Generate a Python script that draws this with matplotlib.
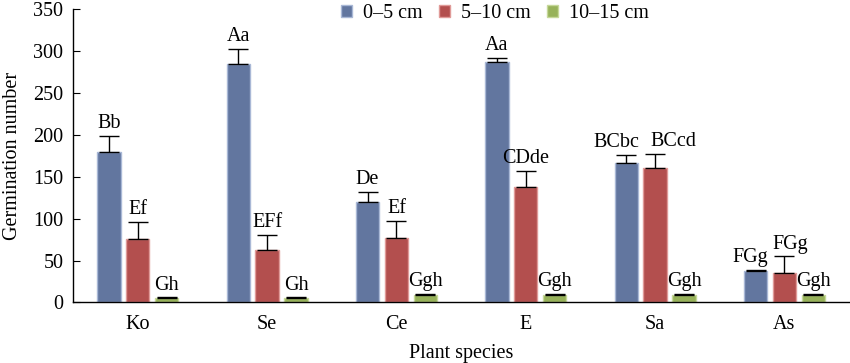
import matplotlib
matplotlib.use("Agg")
import matplotlib.pyplot as plt
import numpy as np

species = ["Ko", "Se", "Ce", "E", "Sa", "As"]
series = ["0–5 cm", "5–10 cm", "10–15 cm"]
vals_0_5 = [180, 285, 120, 287, 167, 37]
vals_5_10 = [76, 63, 77, 138, 160, 35]
vals_10_15 = [5, 5, 9, 9, 9, 9]
err_0_5 = [19, 18, 12, 5, 9, 2]
err_5_10 = [20, 18, 20, 19, 17, 20]
err_10_15 = [1, 1, 1, 1, 1, 1]
lab_0_5 = ["Bb", "Aa", "De", "Aa", "BCbc", "FGg"]
lab_5_10 = ["Ef", "EFf", "Ef", "CDde", "BCcd", "FGg"]
lab_10_15 = ["Gh", "Gh", "Ggh", "Ggh", "Ggh", "Ggh"]
# horizontal nudges (points) for crowded labels
shift_0_5 = [0, 0, 0, 0, -7, -4]
shift_5_10 = [0, 0, 0, 0, 13, 4]
shift_10_15 = [0, 0, 0, 0, 0, 0]

colors = ["#62769F", "#B34F4E", "#97B25A"]
edges = ["#A9B8D6", "#E09A98", "#C6D89A"]

plt.rcParams['font.family'] = ['Liberation Serif', 'DejaVu Serif']
FS = 14.5

fig = plt.figure(figsize=(8.5, 3.63), dpi=100)
ax = fig.add_axes([0.086, 0.167, 0.913, 0.807])

x = np.arange(len(species))
w = 0.18
off = 0.223
data = [vals_0_5, vals_5_10, vals_10_15]
errs = [err_0_5, err_5_10, err_10_15]
labs = [lab_0_5, lab_5_10, lab_10_15]
shifts = [shift_0_5, shift_5_10, shift_10_15]
for i in range(3):
    pos = x + (i - 1) * off
    ax.bar(pos, data[i], width=w, color=colors[i], edgecolor=edges[i],
           linewidth=1.0, label=series[i], zorder=2)
    ax.errorbar(pos, data[i], yerr=[np.zeros(len(species)), errs[i]],
                fmt='none', ecolor='black', elinewidth=1.0, capsize=7.5,
                capthick=1.0, zorder=3)
    for p, v, e, t, s in zip(pos, data[i], errs[i], labs[i], shifts[i]):
        ax.annotate(t, (p, v + e), xytext=(s, 2), textcoords='offset points',
                    ha='center', va='bottom', fontsize=FS)

ax.set_xlim(-0.5, 5.5)
ax.set_ylim(0, 350)
ax.set_yticks(np.arange(0, 351, 50))
ax.set_xticks(x)
ax.set_xticklabels(species)
ax.tick_params(axis='x', length=0, pad=9, labelsize=FS)
ax.tick_params(axis='y', direction='in', length=5, pad=7, labelsize=FS)
for s in ['top', 'right']:
    ax.spines[s].set_visible(False)
ax.spines['left'].set_linewidth(1.0)
ax.spines['bottom'].set_linewidth(1.0)
ax.set_ylabel("Germination number", fontsize=FS, labelpad=8)
ax.set_xlabel("Plant species", fontsize=FS, labelpad=7)

leg = fig.legend(loc='center', bbox_to_anchor=(0.582, 0.962), ncol=3,
                 frameon=False, fontsize=FS, handlelength=0.55,
                 handleheight=0.55, columnspacing=0.8, handletextpad=0.55,
                 borderaxespad=0)

fig.savefig("out.png", dpi=100)
